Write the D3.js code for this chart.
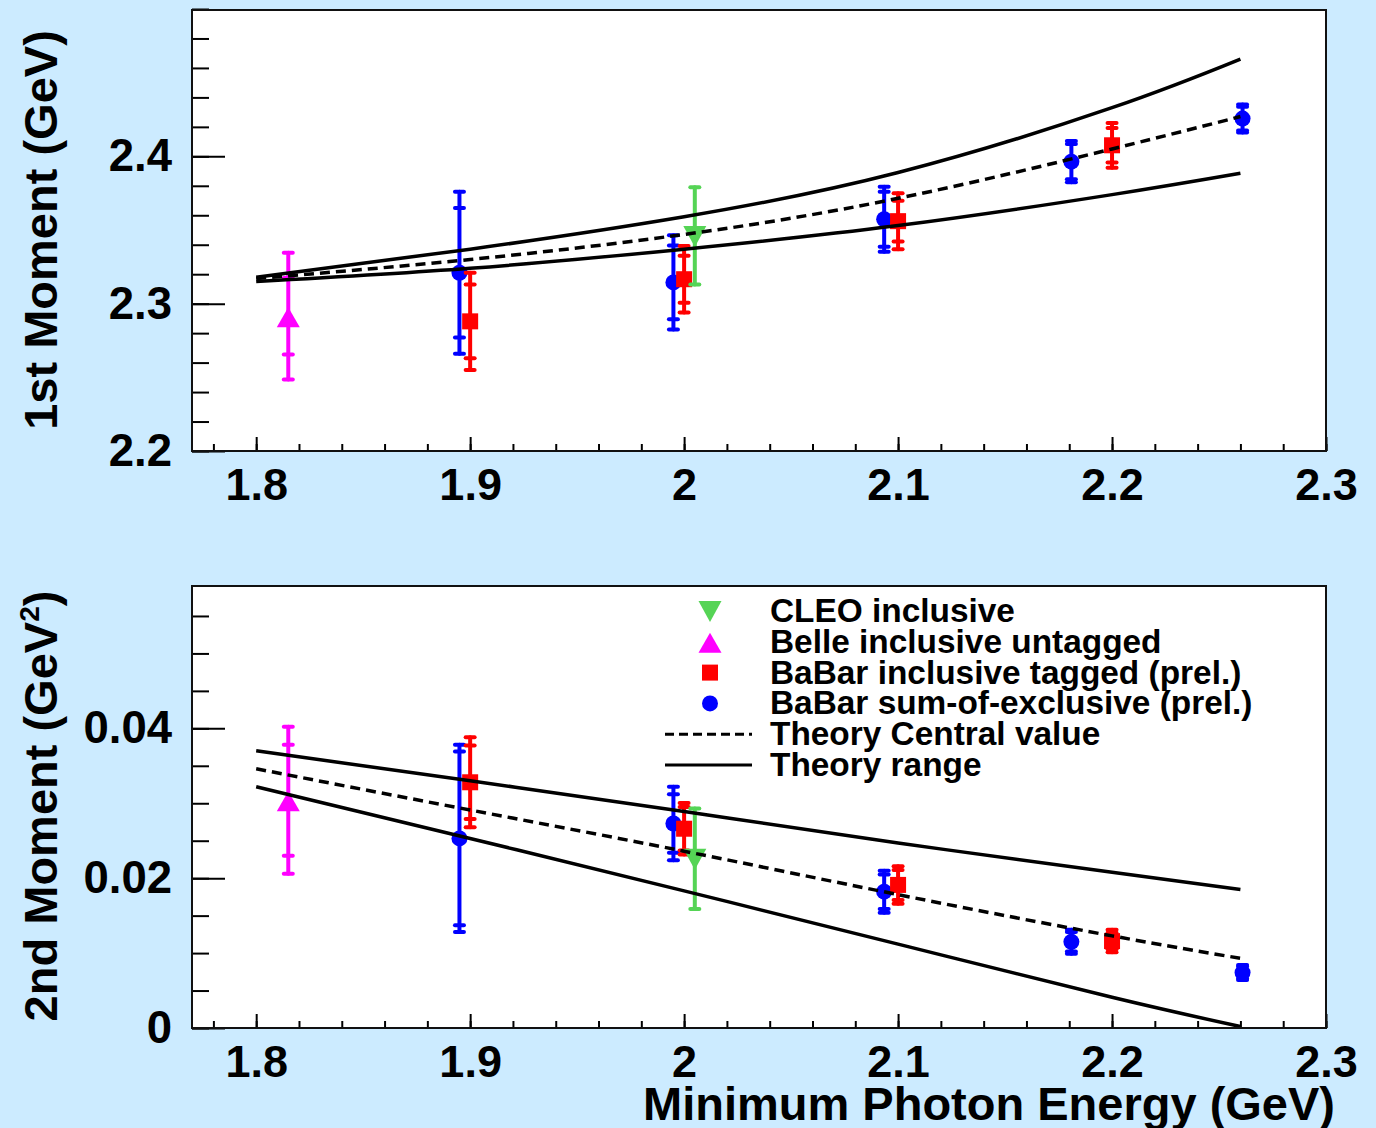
<!DOCTYPE html>
<html>
<head>
<meta charset="utf-8">
<script src="https://cdn.jsdelivr.net/npm/d3@7"></script>
<style>
  html, body { margin: 0; padding: 0; background: #ccebff; }
  svg { display: block; }
  text { font-family: "Liberation Sans", Arial, Helvetica, sans-serif; font-weight: bold; fill: #000; }
</style>
</head>
<body>
<svg id="chart" width="1376" height="1128"></svg>
<script>
// ---- Photon energy cut values (GeV) ----
const thEnergy = [1.8, 1.9, 2.0, 2.1, 2.2, 2.26];

// ---- Theory predictions: 1st moment (GeV) ----
const m1TheoryUpper   = [2.318, 2.337, 2.359, 2.389, 2.433, 2.466];
const m1TheoryCentral = [2.317, 2.330, 2.347, 2.3715, 2.405, 2.427];
const m1TheoryLower   = [2.315, 2.324, 2.337, 2.353, 2.374, 2.3885];

// ---- Theory predictions: 2nd moment (GeV^2) ----
const m2TheoryUpper   = [0.0370, 0.0330, 0.0289, 0.0247, 0.0208, 0.0185];
const m2TheoryCentral = [0.0346, 0.0291, 0.0236, 0.0178, 0.0123, 0.0093];
const m2TheoryLower   = [0.0322, 0.0253, 0.0183, 0.0112, 0.0041, 0.0002];

// ---- CLEO inclusive ----
const cleoE      = [2.005];
const cleoM1     = [2.346];
const cleoM1Tot  = [0.033];
const cleoM2     = [0.0226];
const cleoM2Tot  = [0.0067];

// ---- Belle inclusive untagged ----
const belleE      = [1.815];
const belleM1     = [2.2915];
const belleM1Stat = [0.026];
const belleM1Tot  = [0.043];
const belleM2     = [0.0304];
const belleM2Stat = [0.0074];
const belleM2Tot  = [0.0098];

// ---- BaBar inclusive tagged (prel.) ----
const tagE      = [1.9, 2.0, 2.1, 2.2];
const tagM1     = [2.288, 2.3166, 2.356, 2.4075];
const tagM1Stat = [0.025, 0.016, 0.0138, 0.0117];
const tagM1Tot  = [0.033, 0.0226, 0.019, 0.0152];
const tagM2     = [0.0328, 0.0266, 0.0191, 0.0116];
const tagM2Stat = [0.0049, 0.0029, 0.0020, 0.0011];
const tagM2Tot  = [0.0060, 0.00345, 0.0025, 0.0015];

// ---- BaBar sum-of-exclusive (prel.) ----
const sumE      = [1.895, 1.995, 2.0935, 2.181, 2.261];
const sumM1     = [2.321, 2.3144, 2.3573, 2.3964, 2.4256];
const sumM1Stat = [0.044, 0.025, 0.0186, 0.012, 0.008];
const sumM1Tot  = [0.055, 0.032, 0.022, 0.014, 0.0095];
const sumM2     = [0.0253, 0.0273, 0.0182, 0.0115, 0.0074];
const sumM2Stat = [0.0116, 0.0039, 0.0023, 0.0013, 0.0008];
const sumM2Tot  = [0.0125, 0.0049, 0.0028, 0.0016, 0.0010];

// ---- Axis tick labels ----
const xTicks     = [1.8, 1.9, 2.0, 2.1, 2.2, 2.3];
const xTickText  = ["1.8", "1.9", "2", "2.1", "2.2", "2.3"];
const y1Ticks    = [2.2, 2.3, 2.4];
const y1TickText = ["2.2", "2.3", "2.4"];
const y2Ticks    = [0, 0.02, 0.04];
const y2TickText = ["0", "0.02", "0.04"];

// ---- Legend ----
const legendLabels = ["CLEO inclusive", "Belle inclusive untagged",
  "BaBar inclusive tagged (prel.)", "BaBar sum-of-exclusive (prel.)",
  "Theory Central value", "Theory range"];

const COLORS = { cleo: "#55d455", belle: "#ff00ff", tag: "#ff0000", sum: "#0000ff" };

const svg = d3.select("#chart");
svg.append("rect").attr("width", 1376).attr("height", 1128).attr("fill", "#ccebff");

const xRange = [192, 1326];
const x = d3.scaleLinear().domain([1.77, 2.3]).range(xRange);

const panels = [
  { top: 10,  bottom: 451,  y: d3.scaleLinear().domain([2.2, 2.5]).range([451, 9]),
    yTicks: y1Ticks, yText: y1TickText, yMinor: d3.range(2.2, 2.5001, 0.02) },
  { top: 586, bottom: 1028, y: d3.scaleLinear().domain([0, 0.059]).range([1028, 586]),
    yTicks: y2Ticks, yText: y2TickText, yMinor: d3.range(0, 0.0591, 0.005) }
];

const xMinor = d3.range(1.78, 2.3001, 0.02);

function marker(g, type, cx, cy, color) {
  if (type === "circle") {
    g.append("circle").attr("cx", cx).attr("cy", cy).attr("r", 8).attr("fill", color);
  } else if (type === "square") {
    g.append("rect").attr("x", cx - 8).attr("y", cy - 8).attr("width", 16).attr("height", 16).attr("fill", color);
  } else if (type === "up") {
    g.append("path").attr("d", `M${cx},${cy - 9}L${cx + 11.5},${cy + 11}L${cx - 11.5},${cy + 11}Z`).attr("fill", color);
  } else if (type === "down") {
    g.append("path").attr("d", `M${cx},${cy + 11}L${cx + 11.5},${cy - 10}L${cx - 11.5},${cy - 10}Z`).attr("fill", color);
  }
}

function errorPoints(g, y, E, V, stat, tot, color, type) {
  E.forEach((e, i) => {
    const cx = x(e), cy = y(V[i]);
    const pg = g.append("g").attr("stroke", color).attr("stroke-width", 4).attr("stroke-linecap", "round");
    pg.append("line").attr("x1", cx).attr("x2", cx)
      .attr("y1", y(V[i] - tot[i])).attr("y2", y(V[i] + tot[i]));
    const caps = [V[i] - tot[i], V[i] + tot[i]];
    if (stat) caps.push(V[i] - stat[i], V[i] + stat[i]);
    caps.forEach(c => {
      pg.append("line").attr("x1", cx - 4.5).attr("x2", cx + 4.5).attr("y1", y(c)).attr("y2", y(c));
    });
    marker(g, type, cx, cy, color);
  });
}

function theoryLine(g, y, values, dashed) {
  const line = d3.line().x((d, i) => x(thEnergy[i])).y(d => y(d)).curve(d3.curveNatural);
  g.append("path").datum(values).attr("d", line)
    .attr("fill", "none").attr("stroke", "#000").attr("stroke-width", 3.5)
    .attr("stroke-dasharray", dashed ? "10,6" : null);
}

panels.forEach((p, pi) => {
  const g = svg.append("g");
  const y = p.y;
  // white plot area
  g.append("rect").attr("x", xRange[0]).attr("y", p.top)
    .attr("width", xRange[1] - xRange[0]).attr("height", p.bottom - p.top)
    .attr("fill", "#fff").attr("stroke", "none");

  // x axis: minor and major ticks pointing inward
  const xMinorAxis = d3.axisBottom(x).tickValues(xMinor).tickSize(-7).tickFormat("");
  const xMajorAxis = d3.axisBottom(x).tickValues(xTicks).tickSize(-14).tickPadding(17)
    .tickFormat((d, i) => xTickText[i]);
  const gx1 = g.append("g").attr("transform", `translate(0,${p.bottom})`).call(xMinorAxis);
  const gx2 = g.append("g").attr("transform", `translate(0,${p.bottom})`).call(xMajorAxis);
  [gx1, gx2].forEach(a => { a.select(".domain").remove(); a.selectAll("line").attr("stroke", "#000").attr("stroke-width", 2); });
  gx2.selectAll("text").attr("font-size", 45).attr("font-family", "Liberation Sans, Arial, sans-serif").attr("font-weight", "bold").attr("fill", "#000");

  // y axis
  const yMinorAxis = d3.axisLeft(y).tickValues(p.yMinor).tickSize(-17).tickFormat("");
  const yMajorAxis = d3.axisLeft(y).tickValues(p.yTicks).tickSize(-33).tickPadding(20)
    .tickFormat((d, i) => p.yText[i]);
  const gy1 = g.append("g").attr("transform", `translate(${xRange[0]},0)`).call(yMinorAxis);
  const gy2 = g.append("g").attr("transform", `translate(${xRange[0]},0)`).call(yMajorAxis);
  [gy1, gy2].forEach(a => { a.select(".domain").remove(); a.selectAll("line").attr("stroke", "#000").attr("stroke-width", 2); });
  gy2.selectAll("text").attr("font-size", 45.5).attr("font-family", "Liberation Sans, Arial, sans-serif").attr("font-weight", "bold").attr("fill", "#000");

  // measurements, then theory curves on top
  const dg = g.append("g");
  if (pi === 0) {
    errorPoints(dg, y, belleE, belleM1, belleM1Stat, belleM1Tot, COLORS.belle, "up");
    errorPoints(dg, y, sumE, sumM1, sumM1Stat, sumM1Tot, COLORS.sum, "circle");
    errorPoints(dg, y, tagE, tagM1, tagM1Stat, tagM1Tot, COLORS.tag, "square");
    errorPoints(dg, y, cleoE, cleoM1, null, cleoM1Tot, COLORS.cleo, "down");
    theoryLine(g, y, m1TheoryUpper, false);
    theoryLine(g, y, m1TheoryLower, false);
    theoryLine(g, y, m1TheoryCentral, true);
  } else {
    errorPoints(dg, y, belleE, belleM2, belleM2Stat, belleM2Tot, COLORS.belle, "up");
    errorPoints(dg, y, sumE, sumM2, sumM2Stat, sumM2Tot, COLORS.sum, "circle");
    errorPoints(dg, y, tagE, tagM2, tagM2Stat, tagM2Tot, COLORS.tag, "square");
    errorPoints(dg, y, cleoE, cleoM2, null, cleoM2Tot, COLORS.cleo, "down");
    theoryLine(g, y, m2TheoryUpper, false);
    theoryLine(g, y, m2TheoryLower, false);
    theoryLine(g, y, m2TheoryCentral, true);
  }

  // frame outline
  g.append("rect").attr("x", xRange[0]).attr("y", p.top)
    .attr("width", xRange[1] - xRange[0]).attr("height", p.bottom - p.top)
    .attr("fill", "none").attr("stroke", "#111").attr("stroke-width", 2);
});

// axis titles
svg.append("text").attr("transform", "translate(57,230) rotate(-90)")
  .attr("text-anchor", "middle").attr("font-size", 47).text("1st Moment (GeV)");
const t2 = svg.append("text").attr("transform", "translate(57,806) rotate(-90)")
  .attr("text-anchor", "middle").attr("font-size", 47);
t2.append("tspan").text("2nd Moment (GeV");
t2.append("tspan").attr("font-size", 28).attr("dy", -18).text("2");
t2.append("tspan").attr("dy", 18).text(")");

svg.append("text").attr("x", 1335).attr("y", 1120).attr("text-anchor", "end")
  .attr("font-size", 47).text("Minimum Photon Energy (GeV)");

// legend
const lg = svg.append("g");
const legendTypes = [
  { kind: "down", color: COLORS.cleo }, { kind: "up", color: COLORS.belle },
  { kind: "square", color: COLORS.tag }, { kind: "circle", color: COLORS.sum },
  { kind: "dash" }, { kind: "solid" }
];
const rowY = d3.scaleLinear().domain([0, 5]).range([611, 765]);
legendLabels.forEach((lab, i) => {
  const cy = rowY(i);
  const t = legendTypes[i];
  if (t.kind === "dash" || t.kind === "solid") {
    lg.append("line").attr("x1", 665).attr("x2", 752).attr("y1", cy).attr("y2", cy)
      .attr("stroke", "#000").attr("stroke-width", 3)
      .attr("stroke-dasharray", t.kind === "dash" ? "9,5" : null);
  } else {
    marker(lg, t.kind, 710, cy, t.color);
  }
  lg.append("text").attr("x", 770).attr("y", cy + 11).attr("font-size", 33.4).text(lab);
});
</script>
</body>
</html>
